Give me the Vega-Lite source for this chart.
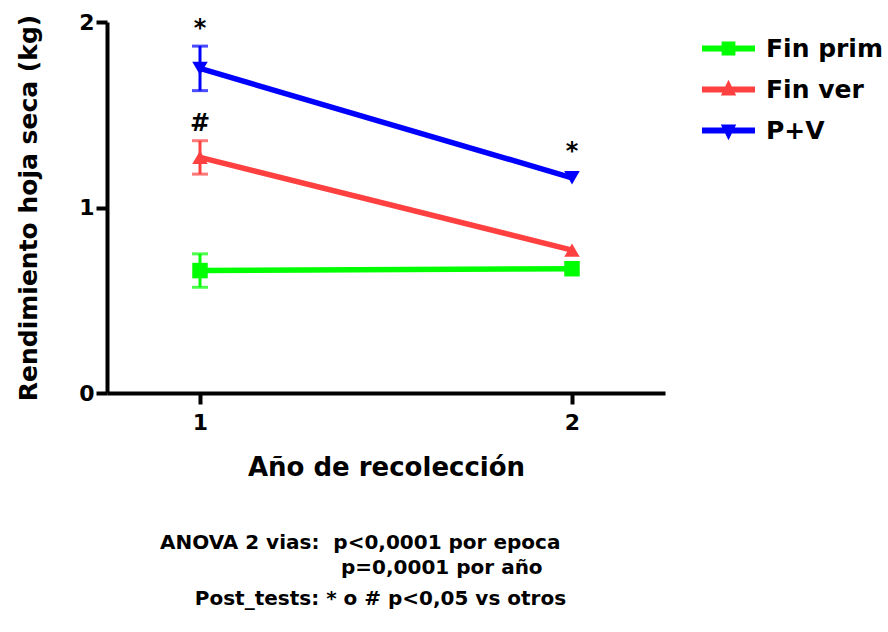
{
  "$schema": "https://vega.github.io/schema/vega-lite/v6.json",
  "width": 558,
  "height": 371,
  "autosize": {"type": "none"},
  "padding": {"left": 107, "top": 22, "right": 223, "bottom": 239},
  "background": "white",
  "config": {
    "view": {"stroke": null},
    "font": "DejaVu Sans",
    "axis": {
      "domainColor": "black",
      "domainWidth": 4,
      "tickColor": "black",
      "tickWidth": 4,
      "tickSize": 11,
      "labelFont": "DejaVu Sans",
      "labelFontWeight": "bold",
      "labelFontSize": 22,
      "labelColor": "black",
      "titleFont": "DejaVu Sans",
      "titleFontWeight": "bold",
      "titleColor": "black",
      "grid": false
    }
  },
  "datasets": {
    "medias": [
      {"serie": "Fin prim", "anio": 1, "media": 0.66, "ees": 0.09},
      {"serie": "Fin prim", "anio": 2, "media": 0.67, "ees": 0},
      {"serie": "Fin ver", "anio": 1, "media": 1.27, "ees": 0.09},
      {"serie": "Fin ver", "anio": 2, "media": 0.77, "ees": 0},
      {"serie": "P+V", "anio": 1, "media": 1.75, "ees": 0.12},
      {"serie": "P+V", "anio": 2, "media": 1.16, "ees": 0}
    ],
    "notas": [
      {"anio": 1, "media": 1.925, "etiqueta": "*"},
      {"anio": 1, "media": 1.412, "etiqueta": "#"},
      {"anio": 2, "media": 1.262, "etiqueta": "*"}
    ]
  },
  "title": {
    "text": ["ANOVA 2 vias:\u00a0 p<0,0001 por epoca", "\u200b\u00a0\u00a0\u00a0\u00a0\u00a0\u00a0\u00a0\u00a0\u00a0\u00a0\u00a0\u00a0\u00a0\u00a0\u00a0\u00a0\u00a0\u00a0\u00a0\u00a0\u00a0\u00a0\u00a0\u00a0\u00a0\u00a0p=0,0001 por año"],
    "subtitle": "\u200b\u00a0\u00a0\u00a0\u00a0\u00a0Post_tests: * o # p<0,05 vs otros",
    "orient": "bottom",
    "anchor": "start",
    "frame": "group",
    "align": "left",
    "dx": 53,
    "offset": 53,
    "font": "DejaVu Sans",
    "fontWeight": "bold",
    "fontSize": 20,
    "lineHeight": 25,
    "color": "black",
    "subtitleFont": "DejaVu Sans",
    "subtitleFontWeight": "bold",
    "subtitleFontSize": 20,
    "subtitleColor": "black",
    "subtitlePadding": 11
  },
  "encoding": {
    "x": {
      "field": "anio",
      "type": "quantitative",
      "scale": {"domain": [0.75, 2.25], "nice": false, "zero": false},
      "axis": {
        "values": [1, 2],
        "format": ".0f",
        "title": "Año de recolección",
        "titleFontSize": 26,
        "labelPadding": 8,
        "titlePadding": 21,
        "labelFlush": false
      }
    },
    "y": {
      "field": "media",
      "type": "quantitative",
      "scale": {"domain": [0, 2], "nice": false},
      "axis": {
        "values": [0, 1, 2],
        "format": ".0f",
        "title": "Rendimiento hoja seca (kg)",
        "titleFontSize": 25,
        "labelPadding": 2,
        "titlePadding": 37,
        "labelOverlap": false,
        "labelFlush": false
      }
    }
  },
  "resolve": {
    "scale": {"shape": "independent", "color": "independent"},
    "legend": {"shape": "independent", "color": "independent"}
  },
  "layer": [
    {
      "data": {"name": "medias"},
      "transform": [{"filter": "datum.ees > 0"}],
      "mark": {"type": "errorbar", "ticks": true, "size": 16, "thickness": 3},
      "encoding": {
        "yError": {"field": "ees"},
        "color": {
          "field": "serie",
          "type": "nominal",
          "scale": {"domain": ["Fin prim", "Fin ver", "P+V"], "range": ["#00FF00", "#FF4040", "#0000FF"]},
          "legend": null
        }
      }
    },
    {
      "data": {"name": "medias"},
      "mark": {"type": "line", "strokeWidth": 5.5},
      "encoding": {
        "color": {
          "field": "serie",
          "type": "nominal",
          "scale": {"domain": ["Fin prim", "Fin ver", "P+V"], "range": ["#00FF00", "#FF4040", "#0000FF"]},
          "legend": null
        }
      }
    },
    {
      "data": {"name": "medias"},
      "mark": {"type": "point", "filled": true, "opacity": 1, "strokeWidth": 0, "size": 240},
      "encoding": {
        "color": {
          "field": "serie",
          "type": "nominal",
          "scale": {"domain": ["Fin prim", "Fin ver", "P+V"], "range": ["#00FF00", "#FF4040", "#0000FF"]},
          "legend": null
        },
        "shape": {
          "field": "serie",
          "type": "nominal",
          "scale": {"domain": ["Fin prim", "Fin ver", "P+V"], "range": ["square", "triangle-up", "triangle-down"]},
          "legend": null
        }
      }
    },
    {
      "data": {"name": "medias"},
      "transform": [{"filter": "datum.ees < 0"}],
      "mark": {"type": "point", "filled": true, "opacity": 1, "strokeWidth": 0},
      "encoding": {
        "color": {
          "field": "serie",
          "type": "nominal",
          "scale": {"domain": ["Fin prim", "Fin ver", "P+V"], "range": ["#00FF00", "#FF4040", "#0000FF"]},
          "legend": {
            "title": null,
            "orient": "none",
            "legendX": 595,
            "legendY": 0,
            "padding": 0,
            "symbolSize": 2809,
            "symbolStrokeWidth": 0,
            "symbolOpacity": 1,
            "labelFont": "DejaVu Sans",
            "labelFontWeight": "bold",
            "labelFontSize": 25,
            "labelColor": "black",
            "labelOffset": 11,
            "rowPadding": 1
          }
        },
        "shape": {
          "field": "serie",
          "type": "nominal",
          "scale": {
            "domain": ["Fin prim", "Fin ver", "P+V"],
            "range": [
              "M-1,-0.11H1V0.11H-1Z M-0.26,-0.26H0.26V0.26H-0.26Z",
              "M-1,-0.11H1V0.11H-1Z M0,-0.37L0.29,0.23H-0.29Z",
              "M-1,-0.11H1V0.11H-1Z M-0.29,-0.23H0.29L0,0.37Z"
            ]
          },
          "legend": {
            "title": null,
            "orient": "none",
            "legendX": 595,
            "legendY": 0,
            "padding": 0,
            "symbolSize": 2809,
            "symbolStrokeWidth": 0,
            "symbolOpacity": 1,
            "labelFont": "DejaVu Sans",
            "labelFontWeight": "bold",
            "labelFontSize": 25,
            "labelColor": "black",
            "labelOffset": 11,
            "rowPadding": 1
          }
        }
      }
    },
    {
      "data": {"name": "notas"},
      "mark": {"type": "text", "font": "DejaVu Sans", "fontWeight": "bold", "fontSize": 24, "baseline": "alphabetic", "align": "center", "color": "black"},
      "encoding": {
        "text": {"field": "etiqueta"}
      }
    }
  ]
}
